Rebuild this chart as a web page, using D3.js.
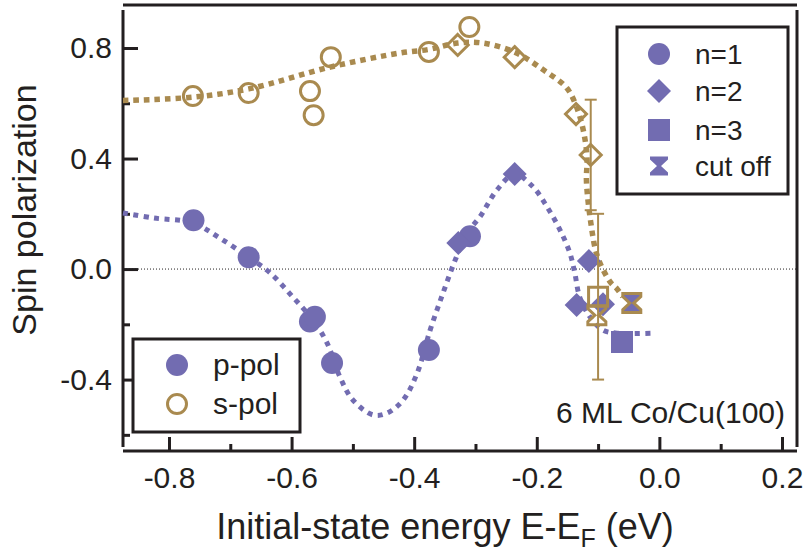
<!DOCTYPE html>
<html>
<head>
<meta charset="utf-8">
<script src="https://cdn.jsdelivr.net/npm/d3@7"></script>
<style>
  html, body { margin: 0; padding: 0; background: #fff; }
  svg { display: block; }
  text { font-family: "Liberation Sans", Arial, Helvetica, sans-serif; fill: #231f20; }
</style>
</head>
<body>
<svg id="chart" width="803" height="551"></svg>
<script>
// ---- data: spin polarization vs initial-state energy (eV) ----
// p-polarized light (filled markers)
const pCircleX = [-0.760, -0.670, -0.570, -0.562, -0.534, -0.376, -0.309];
const pCircleY = [0.177, 0.043, -0.190, -0.173, -0.340, -0.293, 0.119];
const pDiamondX = [-0.328, -0.236, -0.115, -0.135, -0.092];
const pDiamondY = [0.094, 0.344, 0.029, -0.130, -0.127];
const pSquareX = [-0.061];
const pSquareY = [-0.264];
const pCutX = [-0.045];
const pCutY = [-0.120];

// s-polarized light (open markers)
const sCircleX = [-0.761, -0.670, -0.570, -0.564, -0.536, -0.376, -0.310];
const sCircleY = [0.626, 0.637, 0.644, 0.557, 0.767, 0.786, 0.876];
const sDiamondX = [-0.329, -0.236, -0.136, -0.112];
const sDiamondY = [0.811, 0.767, 0.561, 0.413];
const sDiamondErr = [0, 0, 0, 0.200];
const sSquareX = [-0.100];
const sSquareY = [-0.100];
const sSquareErr = [0.300];
const sCutX = [-0.102, -0.045];
const sCutY = [-0.167, -0.123];

// guide-to-the-eye curves
const pGuideX = [-0.875, -0.826, -0.761, -0.717, -0.670, -0.635, -0.598, -0.565, -0.542, -0.521, -0.500, -0.467, -0.444, -0.418, -0.395, -0.374, -0.353, -0.333, -0.314, -0.293, -0.265, -0.236, -0.206, -0.183, -0.162, -0.146, -0.138, -0.130, -0.113, -0.092, -0.069, -0.010];
const pGuideY = [0.203, 0.185, 0.167, 0.112, 0.043, -0.014, -0.101, -0.185, -0.268, -0.391, -0.474, -0.528, -0.521, -0.474, -0.376, -0.221, -0.087, 0.033, 0.130, 0.188, 0.286, 0.344, 0.297, 0.224, 0.141, 0.058, -0.014, -0.101, -0.174, -0.221, -0.232, -0.232];
const sGuideX = [-0.875, -0.761, -0.670, -0.537, -0.423, -0.376, -0.329, -0.288, -0.236, -0.190, -0.151, -0.134, -0.123, -0.118, -0.119, -0.112, -0.101, -0.080, -0.069, -0.060];
const sGuideY = [0.610, 0.622, 0.652, 0.731, 0.782, 0.795, 0.818, 0.818, 0.785, 0.722, 0.655, 0.580, 0.490, 0.400, 0.320, 0.170, 0.045, -0.047, -0.072, -0.100];

// axis ticks
const xMajor = [-0.8, -0.6, -0.4, -0.2, 0.0, 0.2];
const xMinor = [-0.7, -0.5, -0.3, -0.1, 0.1];
const yMajor = [0.8, 0.4, 0.0, -0.4];
const yMinor = [0.6, 0.2, -0.2, -0.6];

const legendSeries = ["n=1", "n=2", "n=3", "cut off"];
const legendPol = ["p-pol", "s-pol"];

// ---- drawing ----
const PURPLE = "#726cb1";
const GOLD = "#a98a4f";
const INK = "#231f20";

const svg = d3.select("#chart");
const L = 123, R = 797, T = 10, B = 447;

const x = d3.scaleLinear().domain([-0.875, 0.2245]).range([L, R]);
const y = d3.scaleLinear().domain([-0.644, 0.9376]).range([B, T]);

const zip = (xs, ys, es) => xs.map((v, i) => ({ x: v, y: ys[i], e: es ? es[i] : 0 }));

// zero reference line
svg.append("line")
  .attr("x1", L).attr("x2", R).attr("y1", y(0)).attr("y2", y(0))
  .attr("stroke", INK).attr("stroke-width", 1).attr("stroke-dasharray", "1,2");

// y axis (ticks point inward)
const yAxisMajor = svg.append("g").attr("transform", `translate(${L},0)`)
  .call(d3.axisLeft(y).tickValues(yMajor).tickSize(-15).tickPadding(11).tickFormat(d3.format(".1f")));
const yAxisMinor = svg.append("g").attr("transform", `translate(${L},0)`)
  .call(d3.axisLeft(y).tickValues(yMinor).tickSize(-7).tickFormat(""));

// x axis (ticks point inward)
const xBase = 451;
const xAxisMajor = svg.append("g").attr("transform", `translate(0,${xBase})`)
  .call(d3.axisBottom(x).tickValues(xMajor).tickSize(-14).tickPadding(16).tickFormat(d3.format(".1f")));
const xAxisMinor = svg.append("g").attr("transform", `translate(0,${xBase})`)
  .call(d3.axisBottom(x).tickValues(xMinor).tickSize(-7).tickFormat(""));

[yAxisMajor, yAxisMinor, xAxisMajor, xAxisMinor].forEach(g => {
  g.select(".domain").remove();
  g.selectAll(".tick line").attr("stroke", INK).attr("stroke-width", 3);
  g.selectAll(".tick text").attr("font-size", 30).attr("fill", INK)
    .style("font-family", "'Liberation Sans', Arial, sans-serif");
});
xAxisMajor.selectAll(".tick text").text(d => d3.format(".1f")(d).replace("−", "-"));
yAxisMajor.selectAll(".tick text").text(d => d3.format(".1f")(d).replace("−", "-"));

// frame lines
const frame = svg.append("g").attr("stroke", INK).attr("stroke-width", 3).attr("fill", "none");
frame.append("line").attr("x1", L).attr("x2", L).attr("y1", T).attr("y2", B);
frame.append("line").attr("x1", L).attr("x2", R).attr("y1", xBase).attr("y2", xBase);
frame.append("line").attr("x1", L).attr("x2", R).attr("y1", 5).attr("y2", 5);
frame.append("line").attr("x1", R).attr("x2", R).attr("y1", T).attr("y2", B);

// guide curves
const line = d3.line().x(d => x(d.x)).y(d => y(d.y)).curve(d3.curveCatmullRom.alpha(0.5));
svg.append("path").datum(zip(pGuideX, pGuideY)).attr("d", line)
  .attr("fill", "none").attr("stroke", PURPLE).attr("stroke-width", 5).attr("stroke-dasharray", "5,5.5");
svg.append("path").datum(zip(sGuideX, sGuideY)).attr("d", line)
  .attr("fill", "none").attr("stroke", GOLD).attr("stroke-width", 5.5).attr("stroke-dasharray", "5.5,5");

// marker shapes
const hourglass = "M-9,-9.5H9V-6.5L2,0L9,6.5V9.5H-9V6.5L-2,0L-9,-6.5Z";
const diamond = "M0,-12L12,0L0,12L-12,0Z";
const square = "M-11,-11H11V11H-11Z";
const circleR = 11;

function drawMarkers(pts, kind, filled, color) {
  const g = svg.append("g");
  const sel = g.selectAll("x").data(pts).enter();
  let m;
  if (kind === "circle") {
    m = sel.append("circle").attr("cx", d => x(d.x)).attr("cy", d => y(d.y))
      .attr("r", filled ? circleR : circleR - 1.5);
  } else {
    const p = kind === "diamond" ? (filled ? diamond : "M0,-10.5L10.5,0L0,10.5L-10.5,0Z")
            : kind === "square" ? (filled ? square : "M-9.5,-9.5H9.5V9.5H-9.5Z")
            : hourglass;
    m = sel.append("path").attr("d", p)
      .attr("transform", d => `translate(${x(d.x)},${y(d.y)})`);
  }
  if (filled) m.attr("fill", color).attr("stroke", "none");
  else m.attr("fill", "none").attr("stroke", color).attr("stroke-width", 3);
}

function drawErrors(pts, color) {
  const g = svg.append("g").attr("stroke", color).attr("stroke-width", 2);
  pts.filter(d => d.e > 0).forEach(d => {
    const cx = x(d.x), y1 = y(d.y + d.e), y2 = y(d.y - d.e);
    g.append("line").attr("x1", cx).attr("x2", cx).attr("y1", y1).attr("y2", y2);
    g.append("line").attr("x1", cx - 6).attr("x2", cx + 6).attr("y1", y1).attr("y2", y1);
    g.append("line").attr("x1", cx - 6).attr("x2", cx + 6).attr("y1", y2).attr("y2", y2);
  });
}

// p-pol
drawMarkers(zip(pCircleX, pCircleY), "circle", true, PURPLE);
drawMarkers(zip(pDiamondX, pDiamondY), "diamond", true, PURPLE);
drawMarkers(zip(pSquareX, pSquareY), "square", true, PURPLE);
drawMarkers(zip(pCutX, pCutY), "cut", true, PURPLE);

// s-pol
const sDiam = zip(sDiamondX, sDiamondY, sDiamondErr);
const sSq = zip(sSquareX, sSquareY, sSquareErr);
drawErrors(sDiam, GOLD);
drawErrors(sSq, GOLD);
drawMarkers(zip(sCircleX, sCircleY), "circle", false, GOLD);
drawMarkers(sDiam, "diamond", false, GOLD);
drawMarkers(sSq, "square", false, GOLD);
drawMarkers(zip(sCutX, sCutY), "cut", false, GOLD);

// legend: marker kinds
const lg1 = svg.append("g");
lg1.append("rect").attr("x", 617).attr("y", 27).attr("width", 171).attr("height", 167)
  .attr("fill", "#fff").attr("stroke", INK).attr("stroke-width", 3);
const kinds = ["circle", "diamond", "square", "cut"];
const legY = [54, 91, 130, 166];
legendSeries.forEach((t, i) => {
  const cx = 659, cy = legY[i];
  if (kinds[i] === "circle") lg1.append("circle").attr("cx", cx).attr("cy", cy).attr("r", circleR).attr("fill", PURPLE);
  else {
    const p = kinds[i] === "diamond" ? diamond : kinds[i] === "square" ? square : hourglass;
    lg1.append("path").attr("d", p).attr("transform", `translate(${cx},${cy})`).attr("fill", PURPLE);
  }
  lg1.append("text").attr("x", 695).attr("y", cy + 10).attr("font-size", 28).text(t);
});

// legend: polarization
const lg2 = svg.append("g");
lg2.append("rect").attr("x", 133).attr("y", 339).attr("width", 167).attr("height", 93)
  .attr("fill", "#fff").attr("stroke", INK).attr("stroke-width", 3);
lg2.append("circle").attr("cx", 177).attr("cy", 365).attr("r", circleR).attr("fill", PURPLE);
lg2.append("circle").attr("cx", 177).attr("cy", 404).attr("r", circleR - 1.5)
  .attr("fill", "none").attr("stroke", GOLD).attr("stroke-width", 3);
lg2.append("text").attr("x", 213).attr("y", 375).attr("font-size", 30).text(legendPol[0]);
lg2.append("text").attr("x", 213).attr("y", 414).attr("font-size", 30).text(legendPol[1]);

// sample annotation
svg.append("text").attr("x", 785).attr("y", 423).attr("text-anchor", "end")
  .attr("font-size", 30).text("6 ML Co/Cu(100)");

// axis titles
svg.append("text").attr("transform", "translate(36,210) rotate(-90)")
  .attr("text-anchor", "middle").attr("font-size", 34).text("Spin polarization");
const xt = svg.append("text").attr("x", 445).attr("y", 539).attr("text-anchor", "middle").attr("font-size", 36);
xt.append("tspan").text("Initial-state energy E-E");
xt.append("tspan").attr("font-size", 25).attr("dy", 8).text("F");
xt.append("tspan").attr("dy", -8).text(" (eV)");
</script>
</body>
</html>
